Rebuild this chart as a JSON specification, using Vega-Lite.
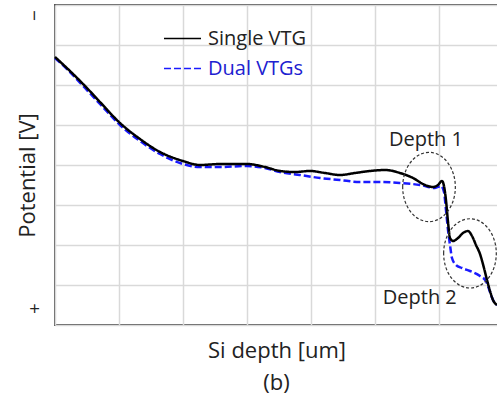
{
  "$schema": "https://vega.github.io/schema/vega-lite/v6.json",
  "width": 443,
  "height": 320,
  "autosize": {"type": "none"},
  "padding": {"left": 55, "top": 5, "right": 0, "bottom": 80},
  "background": "white",
  "config": {"view": {"stroke": "#555555", "strokeWidth": 2}, "font": "Open Sans"},
  "title": {"text": "(b)", "orient": "bottom", "fontSize": 22, "fontWeight": "normal", "color": "#222222", "offset": 12, "anchor": "middle"},
  "datasets": {
    "curves": [
      {"series": "Single VTG", "x": 0, "y": 6.7},
      {"series": "Single VTG", "x": 0.234, "y": 6.35},
      {"series": "Single VTG", "x": 0.469, "y": 5.975},
      {"series": "Single VTG", "x": 0.703, "y": 5.575},
      {"series": "Single VTG", "x": 1.016, "y": 5.05},
      {"series": "Single VTG", "x": 1.328, "y": 4.65},
      {"series": "Single VTG", "x": 1.641, "y": 4.325},
      {"series": "Single VTG", "x": 2.0, "y": 4.1},
      {"series": "Single VTG", "x": 2.266, "y": 4.0},
      {"series": "Single VTG", "x": 2.578, "y": 4.025},
      {"series": "Single VTG", "x": 3.0, "y": 4.025},
      {"series": "Single VTG", "x": 3.281, "y": 3.95},
      {"series": "Single VTG", "x": 3.516, "y": 3.85},
      {"series": "Single VTG", "x": 3.75, "y": 3.825},
      {"series": "Single VTG", "x": 3.984, "y": 3.85},
      {"series": "Single VTG", "x": 4.219, "y": 3.8},
      {"series": "Single VTG", "x": 4.453, "y": 3.75},
      {"series": "Single VTG", "x": 4.688, "y": 3.8},
      {"series": "Single VTG", "x": 4.922, "y": 3.85},
      {"series": "Single VTG", "x": 5.156, "y": 3.875},
      {"series": "Single VTG", "x": 5.391, "y": 3.8},
      {"series": "Single VTG", "x": 5.594, "y": 3.675},
      {"series": "Single VTG", "x": 5.781, "y": 3.5},
      {"series": "Single VTG", "x": 5.906, "y": 3.45},
      {"series": "Single VTG", "x": 5.984, "y": 3.5},
      {"series": "Single VTG", "x": 6.047, "y": 3.6},
      {"series": "Single VTG", "x": 6.078, "y": 3.475},
      {"series": "Single VTG", "x": 6.109, "y": 3.125},
      {"series": "Single VTG", "x": 6.141, "y": 2.575},
      {"series": "Single VTG", "x": 6.172, "y": 2.175},
      {"series": "Single VTG", "x": 6.219, "y": 2.1},
      {"series": "Single VTG", "x": 6.297, "y": 2.175},
      {"series": "Single VTG", "x": 6.375, "y": 2.3},
      {"series": "Single VTG", "x": 6.453, "y": 2.35},
      {"series": "Single VTG", "x": 6.516, "y": 2.225},
      {"series": "Single VTG", "x": 6.578, "y": 2.0},
      {"series": "Single VTG", "x": 6.641, "y": 1.775},
      {"series": "Single VTG", "x": 6.703, "y": 1.425},
      {"series": "Single VTG", "x": 6.75, "y": 1.125},
      {"series": "Single VTG", "x": 6.797, "y": 0.85},
      {"series": "Single VTG", "x": 6.844, "y": 0.625},
      {"series": "Single VTG", "x": 6.906, "y": 0.5},
      {"series": "Dual VTGs", "x": 0, "y": 6.675},
      {"series": "Dual VTGs", "x": 0.234, "y": 6.325},
      {"series": "Dual VTGs", "x": 0.469, "y": 5.925},
      {"series": "Dual VTGs", "x": 0.703, "y": 5.525},
      {"series": "Dual VTGs", "x": 1.016, "y": 5.0},
      {"series": "Dual VTGs", "x": 1.328, "y": 4.6},
      {"series": "Dual VTGs", "x": 1.641, "y": 4.275},
      {"series": "Dual VTGs", "x": 2.0, "y": 4.025},
      {"series": "Dual VTGs", "x": 2.266, "y": 3.95},
      {"series": "Dual VTGs", "x": 2.578, "y": 3.95},
      {"series": "Dual VTGs", "x": 3.0, "y": 3.975},
      {"series": "Dual VTGs", "x": 3.281, "y": 3.925},
      {"series": "Dual VTGs", "x": 3.516, "y": 3.825},
      {"series": "Dual VTGs", "x": 3.828, "y": 3.75},
      {"series": "Dual VTGs", "x": 4.141, "y": 3.675},
      {"series": "Dual VTGs", "x": 4.453, "y": 3.625},
      {"series": "Dual VTGs", "x": 4.766, "y": 3.575},
      {"series": "Dual VTGs", "x": 5.078, "y": 3.575},
      {"series": "Dual VTGs", "x": 5.391, "y": 3.55},
      {"series": "Dual VTGs", "x": 5.703, "y": 3.5},
      {"series": "Dual VTGs", "x": 5.938, "y": 3.425},
      {"series": "Dual VTGs", "x": 6.031, "y": 3.475},
      {"series": "Dual VTGs", "x": 6.078, "y": 3.325},
      {"series": "Dual VTGs", "x": 6.109, "y": 2.875},
      {"series": "Dual VTGs", "x": 6.141, "y": 2.375},
      {"series": "Dual VTGs", "x": 6.172, "y": 2.0},
      {"series": "Dual VTGs", "x": 6.203, "y": 1.675},
      {"series": "Dual VTGs", "x": 6.266, "y": 1.5},
      {"series": "Dual VTGs", "x": 6.359, "y": 1.425},
      {"series": "Dual VTGs", "x": 6.484, "y": 1.35},
      {"series": "Dual VTGs", "x": 6.641, "y": 1.225},
      {"series": "Dual VTGs", "x": 6.734, "y": 1.1},
      {"series": "Dual VTGs", "x": 6.797, "y": 0.825},
      {"series": "Dual VTGs", "x": 6.844, "y": 0.625},
      {"series": "Dual VTGs", "x": 6.906, "y": 0.5}
    ],
    "notes": [
      {"label": "Depth 1", "x": 5.797, "y": 4.625},
      {"label": "Depth 2", "x": 5.7, "y": 0.675}
    ],
    "rings": [
      {"name": "Depth 1", "x": 5.844, "y": 3.45},
      {"name": "Depth 2", "x": 6.484, "y": 1.79}
    ]
  },
  "encoding": {
    "x": {"field": "x", "type": "quantitative",
      "scale": {"domain": [0, 6.922], "nice": false, "zero": false},
      "axis": {"values": [0, 1, 2, 3, 4, 5, 6], "labels": false, "ticks": false, "domain": false,
        "grid": true, "gridColor": "#d9d9d9", "gridWidth": 1.5,
        "title": "Si depth [um]", "titleFontSize": 22, "titleFontWeight": "normal", "titleColor": "#222222",
        "titleBaseline": "alphabetic", "titleY": 32}},
    "y": {"field": "y", "type": "quantitative",
      "scale": {"domain": [0, 8], "nice": false, "zero": false},
      "axis": {"values": [0, 1, 2, 3, 4, 5, 6, 7, 8],
        "labelExpr": "datum.value == 8 ? '−' : (datum.value == 0 ? '+' : '')",
        "labelAngle": -90, "labelFontSize": 19, "labelColor": "#222222", "labelPadding": 11,
        "labelOverlap": false, "labelFlush": false,
        "labelOffset": {"condition": {"test": "datum.value == 8", "value": 10}, "value": -17},
        "ticks": false, "domain": false,
        "grid": true, "gridColor": "#d9d9d9", "gridWidth": 1.5,
        "title": "Potential [V]", "titleFontSize": 22, "titleFontWeight": "normal", "titleColor": "#222222",
        "titleBaseline": "alphabetic", "titleX": -21, "titleY": 170, "titleAngle": -90}}
  },
  "layer": [
    {
      "data": {"name": "curves"},
      "transform": [{"filter": "datum.series == 'Dual VTGs'"}],
      "mark": {"type": "line", "strokeWidth": 2.5, "interpolate": "monotone"},
      "encoding": {
        "color": {"field": "series", "type": "nominal",
          "scale": {"domain": ["Single VTG", "Dual VTGs"], "range": ["#000000", "#1a1aff"]},
          "legend": {"orient": "none", "legendX": 108, "legendY": 14, "title": null,
            "symbolSize": 1369, "symbolStrokeWidth": 1.5, "labelFontSize": 20, "labelOffset": 6,
            "rowPadding": -6, "padding": 0, "labelFont": "Open Sans",
            "labelColor": {"expr": "datum.value == 'Dual VTGs' ? '#2020d0' : '#222222'"}}},
        "strokeDash": {"field": "series", "type": "nominal",
          "scale": {"domain": ["Single VTG", "Dual VTGs"], "range": [[1, 0], [7, 3]]},
          "legend": {"orient": "none", "legendX": 108, "legendY": 14, "title": null,
            "symbolSize": 1369, "symbolStrokeWidth": 1.5, "labelFontSize": 20, "labelOffset": 6,
            "rowPadding": -6, "padding": 0, "labelFont": "Open Sans",
            "labelColor": {"expr": "datum.value == 'Dual VTGs' ? '#2020d0' : '#222222'"}}}
      }
    },
    {
      "data": {"name": "curves"},
      "transform": [{"filter": "datum.series == 'Single VTG'"}],
      "mark": {"type": "line", "strokeWidth": 2.5, "interpolate": "monotone"},
      "encoding": {
        "color": {"field": "series", "type": "nominal",
          "scale": {"domain": ["Single VTG", "Dual VTGs"], "range": ["#000000", "#1a1aff"]}},
        "strokeDash": {"field": "series", "type": "nominal",
          "scale": {"domain": ["Single VTG", "Dual VTGs"], "range": [[1, 0], [7, 3]]}}
      }
    },
    {
      "data": {"name": "rings"},
      "mark": {"type": "point", "shape": "M-0.76,0A0.76,1,0,1,1,0.76,0A0.76,1,0,1,1,-0.76,0Z",
        "filled": false, "stroke": "#333333", "strokeWidth": 1.2, "strokeDash": [3, 2], "size": 4800, "opacity": 1}
    },
    {
      "data": {"name": "notes"},
      "mark": {"type": "text", "fontSize": 20, "color": "#222222", "font": "Open Sans", "align": "center", "baseline": "middle"},
      "encoding": {"text": {"field": "label"}}
    }
  ]
}
